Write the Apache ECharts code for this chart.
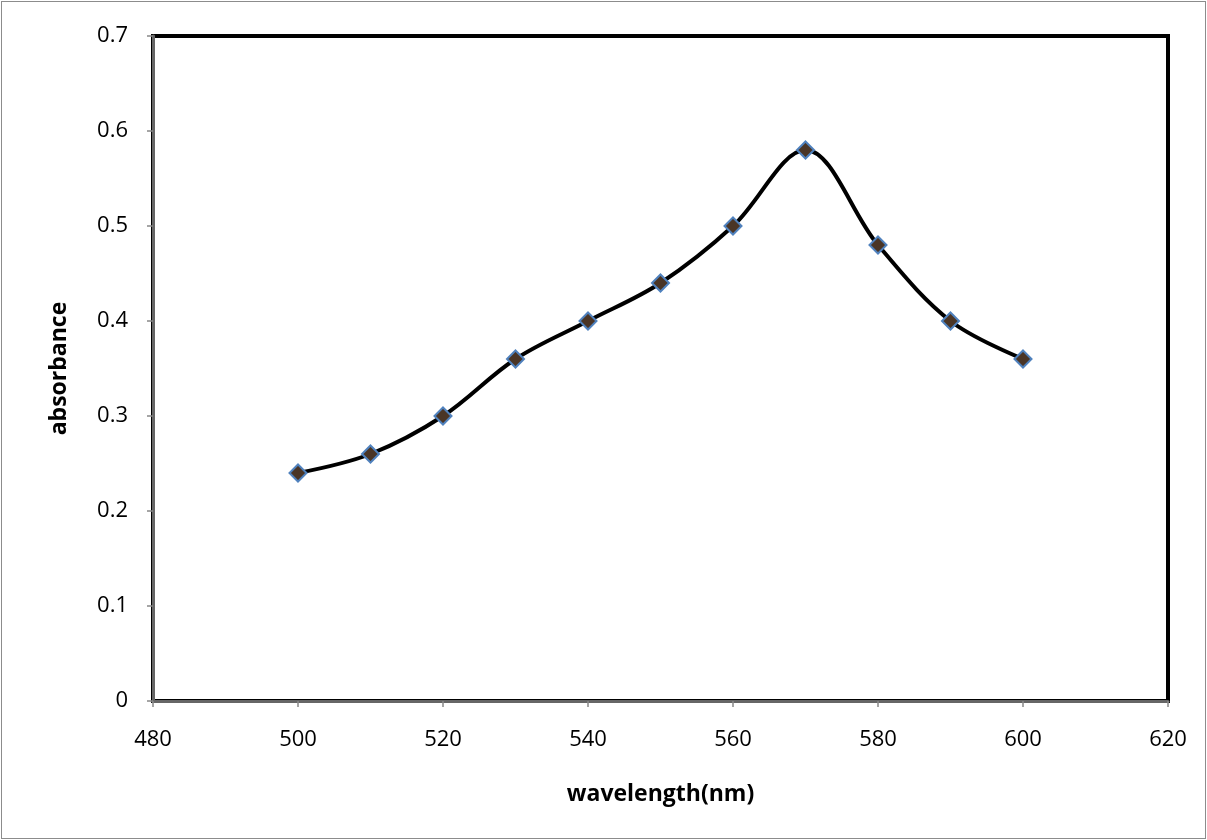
<!DOCTYPE html>
<html><head><meta charset="utf-8">
<script src="https://cdn.jsdelivr.net/npm/echarts@6/dist/echarts.min.js"></script>
<style>
html,body{margin:0;padding:0;background:#fff;}
#c{position:absolute;left:0;top:0;width:1207px;height:840px;}
#frame{position:absolute;left:1px;top:1px;width:1203px;height:836px;border:1px solid #8c8c8c;pointer-events:none;}
</style></head>
<body><div id="c"></div><div id="frame"></div>
<script>
const wavelengths = [500, 510, 520, 530, 540, 550, 560, 570, 580, 590, 600];
const absorbance = [0.24, 0.26, 0.30, 0.36, 0.40, 0.44, 0.50, 0.58, 0.48, 0.40, 0.36];
const xTitle = 'wavelength(nm)';
const yTitle = 'absorbance';

const chart = echarts.init(document.getElementById('c'), null, {renderer:'canvas'});
const font = '"Open Sans", "Liberation Sans", sans-serif';
chart.setOption({
  animation:false,
  backgroundColor:'#fff',
  grid:{left:153, top:36, right:39, bottom:139, show:true, borderColor:'#000', borderWidth:4, backgroundColor:'#fff'},
  xAxis:{type:'value', min:480, max:620, interval:20,
    name:xTitle, nameLocation:'middle', nameGap:82,
    nameTextStyle:{fontFamily:font, fontWeight:'bold', fontSize:23, color:'#000'},
    axisLine:{show:true, lineStyle:{color:'#666', width:3}},
    axisTick:{show:true, length:6, lineStyle:{color:'#888', width:1.5}},
    axisLabel:{fontFamily:font, fontSize:22, color:'#000', margin:28},
    splitLine:{show:false}},
  yAxis:{type:'value', min:0, max:0.7, interval:0.1,
    name:yTitle, nameLocation:'middle', nameGap:82,
    nameTextStyle:{fontFamily:font, fontWeight:'bold', fontSize:23, color:'#000'},
    axisLine:{show:true, lineStyle:{color:'#666', width:3}},
    axisTick:{show:true, length:6, lineStyle:{color:'#888', width:1.5}},
    axisLabel:{fontFamily:font, fontSize:22, color:'#000', margin:25,
      formatter:v=>String(Math.round(v*10)/10)},
    splitLine:{show:false}},
  series:[{type:'line', data:wavelengths.map((w,i)=>[w,absorbance[i]]),
    smooth:0.35, symbol:'diamond', symbolSize:17,
    lineStyle:{color:'#000', width:4},
    itemStyle:{color:'#4a3526', borderColor:'#4f81bd', borderWidth:2}}]
});
</script></body></html>
